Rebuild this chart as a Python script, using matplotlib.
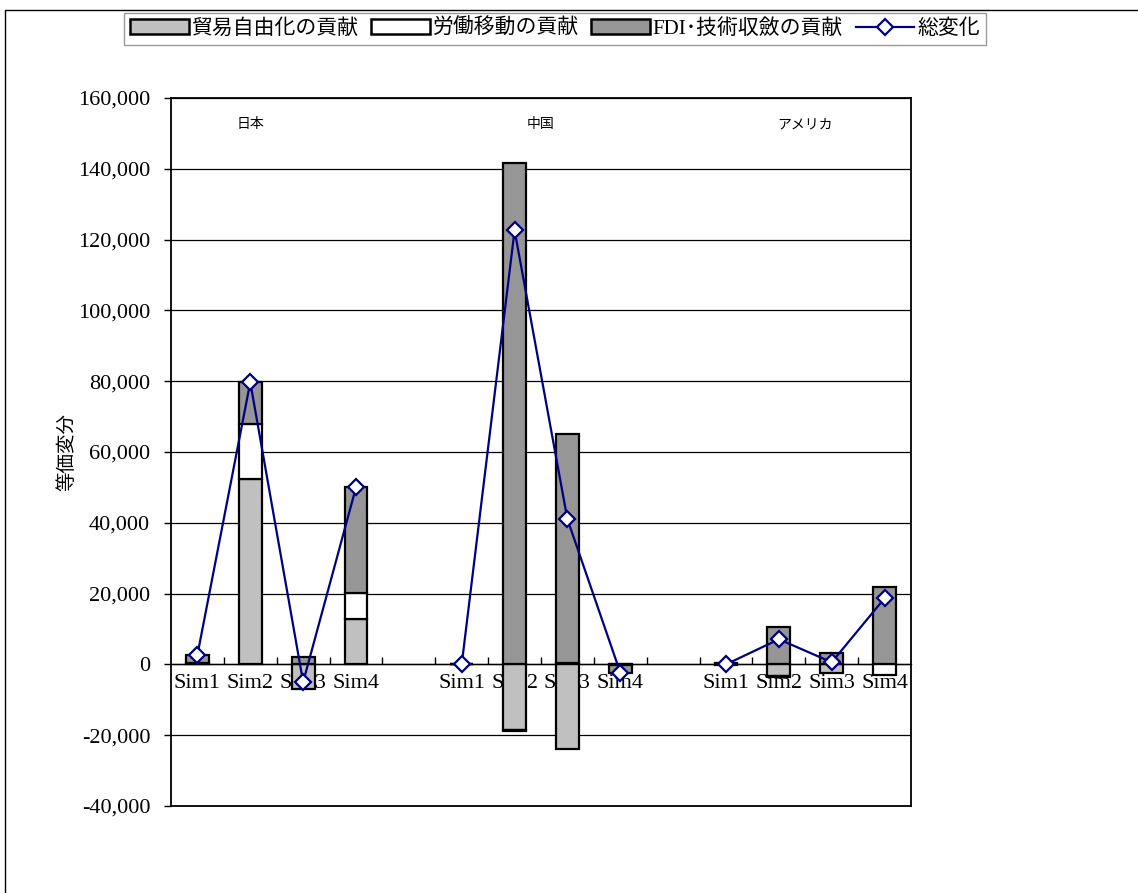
import numpy as np
import matplotlib
matplotlib.use("Agg")
import matplotlib.pyplot as plt
from matplotlib.patches import Rectangle, Patch
from matplotlib.lines import Line2D
from matplotlib.ticker import FuncFormatter, FixedLocator

plt.rcParams['font.family'] = ['Liberation Serif', 'Noto Sans CJK JP', 'DejaVu Sans']

countries = ["日本", "中国", "アメリカ"]
sims = ["Sim1", "Sim2", "Sim3", "Sim4"]

# values per country, Sim1..Sim4
trade = [[300, 52500, -7000, 12700],
         [0, -18600, -24000, -300],
         [-300, -3400, -2500, 0]]
labor = [[0, 15300, 0, 7600],
         [0, -300, 300, 0],
         [0, -100, 0, -3100]]
fdi = [[2400, 11900, 2000, 29700],
       [0, 141500, 64700, -2000],
       [300, 10500, 3100, 21800]]
total = [[2700, 79700, -5000, 50000],
         [0, 122600, 41000, -2300],
         [0, 7100, 600, 18700]]

labels = ["貿易自由化の貢献", "労働移動の貢献", "FDI･技術収斂の貢献", "総変化"]
colors = ["#C0C0C0", "#FFFFFF", "#969696"]

fig = plt.figure(figsize=(11.38, 8.93), dpi=100)
ax = fig.add_axes([171/1138, 1-806/893, (911-171)/1138, (806-98)/893])

nsim = len(sims)
slots = len(countries) * (nsim + 1) - 1
ax.set_xlim(-0.5, slots - 0.5)
ax.set_ylim(-40000, 160000)

pos_base = np.zeros((len(countries), nsim))
neg_base = np.zeros((len(countries), nsim))
for series, col in zip([trade, labor, fdi], colors):
    v = np.array(series, dtype=float)
    for c in range(len(countries)):
        x = c * (nsim + 1) + np.arange(nsim)
        b = np.where(v[c] >= 0, pos_base[c], neg_base[c])
        ax.bar(x, v[c], 0.43, bottom=b, color=col, edgecolor='black',
               linewidth=1.6, zorder=3)
    pos_base += np.where(v >= 0, v, 0)
    neg_base += np.where(v < 0, v, 0)

for c in range(len(countries)):
    x = c * (nsim + 1) + np.arange(nsim)
    ax.plot(x, total[c], color='#000080', linewidth=1.6, marker='D',
            markersize=8, markerfacecolor='white', markeredgecolor='#000080',
            markeredgewidth=1.6, zorder=5)

# gridlines and axis
ax.set_yticks(np.arange(-40000, 160001, 20000))
ax.yaxis.set_major_formatter(FuncFormatter(lambda v, p: f"{int(v):,}"))
ax.tick_params(axis='y', direction='out', length=5, labelsize=16, width=1, pad=10)
ax.grid(axis='y', color='black', linewidth=0.9, zorder=1)
ax.set_xticks([])
for s in ax.spines.values():
    s.set_linewidth(1.3)

sec = ax.secondary_xaxis(0.2)
centers = [c * (nsim + 1) + i for c in range(len(countries)) for i in range(nsim)]
sec.set_xticks(centers)
sec.set_xticklabels(sims * len(countries))
sec.xaxis.set_minor_locator(FixedLocator(np.arange(0.5, slots - 0.5, 1)))
sec.tick_params(axis='x', which='major', length=0, labelsize=16, pad=7)
sec.tick_params(axis='x', which='minor', direction='in', length=5, width=1)
sec.spines['bottom'].set_linewidth(1.0)

ax.set_ylabel("等価変分", fontsize=14)
ax.yaxis.set_label_coords(-0.128, 0.5)

name_shift = [-0.5, 0.0, 0.0]
for c, name in enumerate(countries):
    xc = c * (nsim + 1) + (nsim - 1) / 2 + name_shift[c]
    ax.text(xc, 0.962, name, transform=ax.get_xaxis_transform(),
            ha='center', va='center', fontsize=10)

handles = [Patch(facecolor=col, edgecolor='black', linewidth=1.8) for col in colors]
handles.append(Line2D([], [], color='#000080', linewidth=1.6, marker='D', markersize=8,
                      markerfacecolor='white', markeredgecolor='#000080',
                      markeredgewidth=1.6))
leg = fig.legend(handles, labels, loc='center', bbox_to_anchor=(555/1138, 1-29/893),
                 ncol=4, fontsize=15, frameon=True, fancybox=False,
                 edgecolor='#808080', handlelength=2.8, handleheight=0.7,
                 handletextpad=0.15, columnspacing=0.6, borderpad=0.3)
leg.get_frame().set_linewidth(1.0)

fig.patches.append(Rectangle((5/1138, -0.01), 1.1, 1 - 10/893 + 0.01,
                             transform=fig.transFigure, fill=False,
                             edgecolor='black', linewidth=1.0))

fig.savefig("out.png", dpi=100)
